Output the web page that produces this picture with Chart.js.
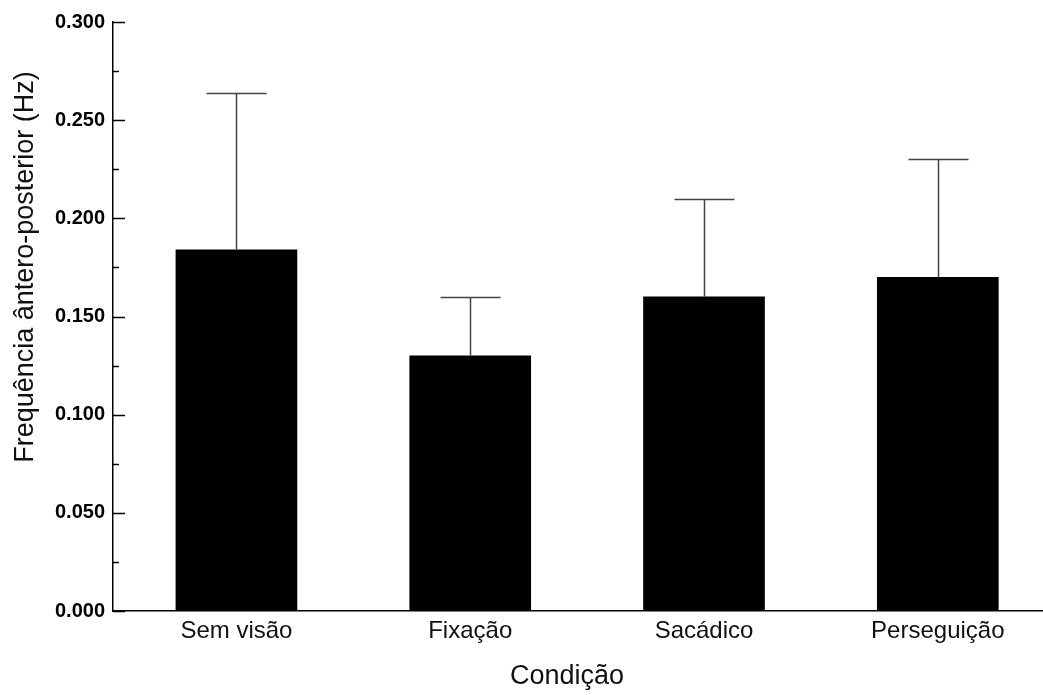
<!DOCTYPE html>
<html>
<head>
<meta charset="utf-8">
<script src="https://cdn.jsdelivr.net/npm/chart.js@4.4.0/dist/chart.umd.min.js"></script>
<style>
    html, body { margin: 0; padding: 0; background: #fff; }
    #wrap { width: 1043px; height: 695px; }
</style>
</head>
<body>
<div id="wrap"><canvas id="chart"></canvas></div>
<script>
// Chart data
const categories = ['Sem visão', 'Fixação', 'Sacádico', 'Perseguição'];
const means = [0.184, 0.130, 0.160, 0.170];
const errors = [0.080, 0.030, 0.050, 0.060];
const yTicks = [0.000, 0.050, 0.100, 0.150, 0.200, 0.250, 0.300];
const yMinorTicks = [0.025, 0.075, 0.125, 0.175, 0.225, 0.275];

const FONT = '"Liberation Sans", Arial, Helvetica, sans-serif';

// Inward ticks, error bars and axis titles
const extras = {
    id: 'extras',
    afterDatasetsDraw(chart) {
        const ctx = chart.ctx;
        const x = chart.scales.x;
        const y = chart.scales.y;
        const left = chart.chartArea.left;

        ctx.save();
        // error bars (upper only)
        ctx.strokeStyle = '#444';
        ctx.lineWidth = 1.5;
        means.forEach((m, i) => {
            const cx = Math.round(x.getPixelForValue(i)) + 0.5;
            const yBar = y.getPixelForValue(m);
            const yTop = Math.round(y.getPixelForValue(m + errors[i])) + 0.5;
            ctx.beginPath();
            ctx.moveTo(cx, yBar);
            ctx.lineTo(cx, yTop);
            ctx.moveTo(cx - 30, yTop);
            ctx.lineTo(cx + 30, yTop);
            ctx.stroke();
        });

        // y ticks pointing into the plot
        ctx.strokeStyle = '#000';
        ctx.lineWidth = 1.5;
        yTicks.forEach(v => {
            const py = Math.round(y.getPixelForValue(v)) + 0.5;
            ctx.beginPath();
            ctx.moveTo(left, py);
            ctx.lineTo(left + 12, py);
            ctx.stroke();
        });
        yMinorTicks.forEach(v => {
            const py = Math.round(y.getPixelForValue(v)) + 0.5;
            ctx.beginPath();
            ctx.moveTo(left, py);
            ctx.lineTo(left + 6, py);
            ctx.stroke();
        });

        // axis titles
        ctx.fillStyle = '#111';
        ctx.font = '27px ' + FONT;
        ctx.textAlign = 'center';
        ctx.textBaseline = 'alphabetic';
        ctx.fillText('Condição', 567, 684);

        ctx.translate(33, 267);
        ctx.rotate(-Math.PI / 2);
        ctx.fillText('Frequência ântero-posterior (Hz)', 0, 0);
        ctx.restore();
    }
};

new Chart(document.getElementById('chart'), {
    type: 'bar',
    data: {
        datasets: [{
            data: means.map((m, i) => ({ x: i, y: m })),
            backgroundColor: '#000',
            borderWidth: 0,
            barThickness: 121
        }]
    },
    options: {
        responsive: true,
        maintainAspectRatio: false,
        animation: false,
        layout: { padding: { top: 22, right: 0, left: 0, bottom: 0 } },
        plugins: {
            legend: { display: false },
            tooltip: { enabled: false }
        },
        scales: {
            x: {
                type: 'linear',
                offset: false,
                min: -0.528,
                max: 3.45,
                afterBuildTicks: axis => {
                    axis.ticks = categories.map((c, i) => ({ value: i }));
                },
                afterFit: scale => { scale.height = 84; },
                grid: { display: false, drawTicks: false },
                border: { display: true, color: '#000', width: 1.5 },
                ticks: {
                    autoSkip: false,
                    maxRotation: 0,
                    padding: 6,
                    color: '#111',
                    font: { family: FONT, size: 24 },
                    callback: value => categories[value]
                }
            },
            y: {
                min: 0,
                max: 0.3,
                afterFit: scale => { scale.width = 113; },
                afterBuildTicks: axis => {
                    axis.ticks = yTicks.map(v => ({ value: v }));
                },
                grid: { display: false, drawTicks: false },
                border: { display: true, color: '#000', width: 1.5 },
                ticks: {
                    padding: 8,
                    color: '#000',
                    font: { family: FONT, size: 20, weight: 'bold' },
                    callback: value => value.toFixed(3)
                }
            }
        }
    },
    plugins: [extras]
});
</script>
</body>
</html>
